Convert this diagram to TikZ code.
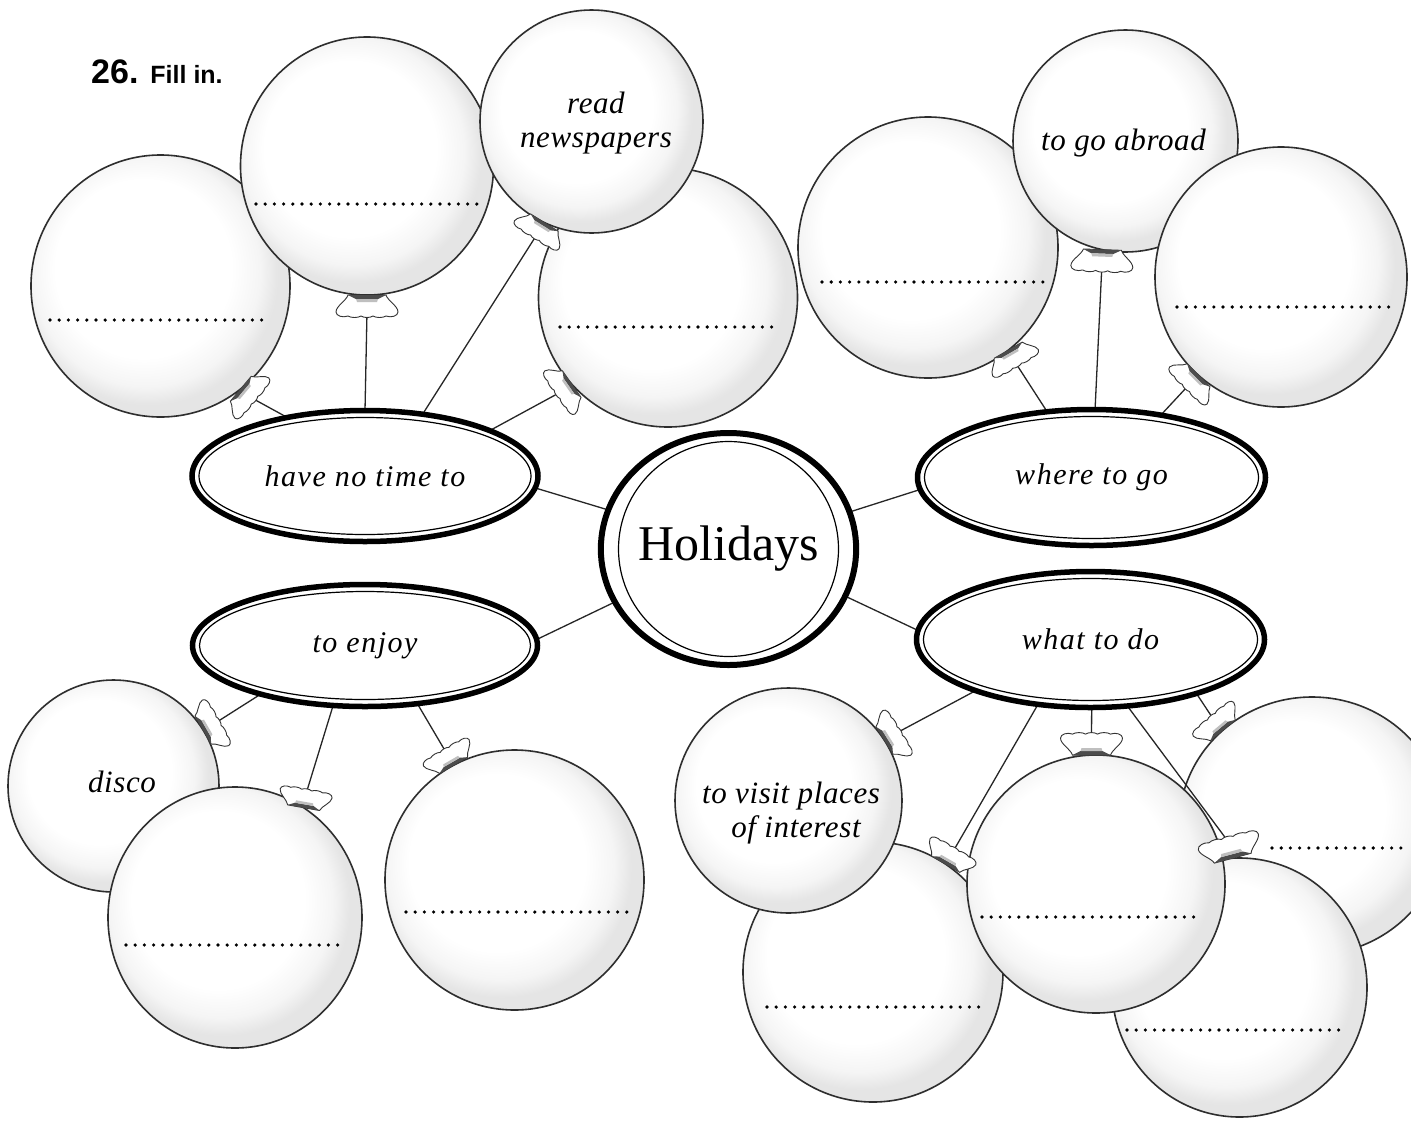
\documentclass[tikz,border=0pt]{standalone}
\usepackage{fontspec}
\setmainfont{Liberation Serif}
\newfontfamily\titlefont{Liberation Sans}
\newfontfamily\topicfont[LetterSpace=5]{Liberation Serif}
\newfontfamily\bfont[LetterSpace=2]{Liberation Serif}
\usetikzlibrary{shapes.geometric}
\pgfdeclarelayer{bal}
\pgfdeclarelayer{lin}
\pgfsetlayers{bal,lin,main}
\pgfdeclareradialshading{balloonshade}{\pgfpoint{-5bp}{5bp}}{color(0bp)=(white); color(17bp)=(white); color(22bp)=(black!4); color(25bp)=(black!10); color(50bp)=(black!10)}
\tikzset{
  balloon/.style={ellipse, draw=black!82, line width=1.6pt, shading=balloonshade, inner sep=0pt, outer sep=0pt},
  topic/.style={ellipse, draw=black, line width=5.5pt, fill=white, inner sep=0pt, outer sep=0pt, font=\topicfont\itshape\fontsize{30}{36}\selectfont},
  hub/.style={ellipse, draw=black, line width=6pt, fill=white, inner sep=0pt, outer sep=0pt, font=\fontsize{50}{60}\selectfont},
  ring/.style={ellipse, draw=black, line width=1.2pt, inner sep=0pt, outer sep=0pt},
  conn/.style={draw=black!85, line width=1.3pt},
  dotrule/.style={line width=3.6pt, line cap=round, dash pattern=on 0pt off 9.2pt},
  btext/.style={font=\bfont\itshape\fontsize{31}{34}\selectfont, align=center, inner sep=0pt},
  balknot/.pic={
    \path[fill=white, draw=black!80, line width=0.9pt]
      (0,-19) .. controls (6,-21) and (11,-31) .. (17,-31)
      .. controls (21,-31) and (23,-24) .. (21,-19)
      .. controls (23,-16) and (23,-9) .. (21,-6)
      .. controls (23,-3) and (23,3) .. (21,6)
      .. controls (23,9) and (23,16) .. (21,19)
      .. controls (23,24) and (21,31) .. (17,31)
      .. controls (11,31) and (6,21) .. (0,19) -- cycle;
    \fill[black!70] (0,-19) .. controls (2,-15) .. (4,-11) -- (4,11) .. controls (2,15) .. (0,19) -- cycle;
    \fill[black!25] (4,-11) -- (7,-10) -- (7,10) -- (4,11) -- cycle;
    \coordinate (-tip) at (17,0);
  }
}
\begin{document}
\begin{tikzpicture}[x=1pt,y=-1pt]
\useasboundingbox (0,0) rectangle (1411,1120);

% ---------- topics and hub ----------
\node[topic, minimum width=346pt, minimum height=131pt] (T1) at (365,476) {have no time to};
\node[ring, minimum width=332pt, minimum height=117pt] (T1r) at (T1.center) {};
\node[topic, minimum width=345pt, minimum height=122pt] (T2) at (365,645.5) {to enjoy};
\node[ring, minimum width=331pt, minimum height=108pt] (T2r) at (T2.center) {};
\node[topic, minimum width=348pt, minimum height=136pt] (T3) at (1091.5,477.5) {where to go};
\node[ring, minimum width=334pt, minimum height=122pt] (T3r) at (T3.center) {};
\node[topic, minimum width=348pt, minimum height=136pt] (T4) at (1090.5,639.5) {what to do};
\node[ring, minimum width=334pt, minimum height=122pt] (T4r) at (T4.center) {};
\node[hub, minimum width=237pt, minimum height=232pt] (hol) at (728.5,549) {Holidays};
\node[ring, minimum width=220pt, minimum height=215pt] (holr) at (hol.center) {};

% ---------- balloons ----------
\begin{pgfonlayer}{bal}
\fill[white] (0,0) rectangle (1411,1120);
\node[balloon, minimum width=259pt, minimum height=262pt] (bA) at (160.5,286) {};
\draw[dotrule] (50,320) -- (269,320);
\node[balloon, minimum width=253pt, minimum height=258pt] (bB) at (367,166) {};
\draw[dotrule] (256,204) -- (479,204);
\node[balloon, minimum width=259pt, minimum height=259pt] (bD) at (668,297.5) {};
\draw[dotrule] (560,327) -- (779,327);
\node[balloon, minimum width=223pt, minimum height=223pt] (bC) at (591.5,121.5) {};

\node[balloon, minimum width=260pt, minimum height=261pt] (bE) at (928,247.5) {};
\draw[dotrule] (822,282) -- (1044,282);
\node[balloon, minimum width=225pt, minimum height=222pt] (bF) at (1125.5,141) {};
\node[balloon, minimum width=252pt, minimum height=260pt] (bG) at (1281,277) {};
\draw[dotrule] (1177,307) -- (1397,307);

\node[balloon, minimum width=211pt, minimum height=212pt] (bH) at (113.5,786) {};
\node[balloon, minimum width=254pt, minimum height=261pt] (bI) at (235,917.5) {};
\draw[dotrule] (126,945) -- (345,945);
\node[balloon, minimum width=259pt, minimum height=260pt] (bJ) at (514.5,880) {};
\draw[dotrule] (406,912) -- (627,912);

\node[balloon, minimum width=260pt, minimum height=260pt] (bL) at (873,972) {};
\draw[dotrule] (767,1007) -- (985,1007);
\node[balloon, minimum width=266pt, minimum height=258pt] (bN) at (1312,826) {};
\draw[dotrule] (1272,848) -- (1408,848);
\node[balloon, minimum width=255pt, minimum height=259pt] (bO) at (1239.5,987.5) {};
\draw[dotrule] (1127,1030) -- (1345,1030);
\node[balloon, minimum width=258pt, minimum height=258pt] (bM) at (1096,884) {};
\draw[dotrule] (982,917) -- (1202,917);
\node[balloon, minimum width=227pt, minimum height=225pt] (bK) at (788.5,800.5) {};
\end{pgfonlayer}

% ---------- knots ----------
\pic[rotate=-40, scale=0.85] (kA) at (bA.-52) {balknot};
\pic[rotate=-90] (kB) at (bB.-90) {balknot};
\pic[rotate=-122, scale=0.85] (kC) at (bC.-115) {balknot};
\pic[rotate=-145, scale=0.85] (kD) at (bD.-138) {balknot};
\pic[rotate=-60, scale=0.85] (kE) at (bE.-52) {balknot};
\pic[rotate=-92] (kF) at (bF.-102) {balknot};
\pic[rotate=-135, scale=0.85] (kG) at (bG.-130) {balknot};
\pic[rotate=30, scale=0.85] (kH) at (bH.32) {balknot};
\pic[rotate=80, scale=0.85] (kI) at (bI.58) {balknot};
\pic[rotate=120, scale=0.85] (kJ) at (bJ.118) {balknot};
\pic[rotate=32, scale=0.85] (kK) at (bK.32) {balknot};
\pic[rotate=60, scale=0.85] (kL) at (bL.56) {balknot};
\pic[rotate=90] (kM) at (bM.92) {balknot};
\pic[rotate=130, scale=0.85] (kN) at (bN.133) {balknot};
\pic[rotate=105] (kO) at (bO.93) {balknot};

% ---------- connectors ----------
\begin{pgfonlayer}{lin}
\draw[conn] (hol.162) -- (T1.-4);
\draw[conn] (hol.-155) -- (T2.2);
\draw[conn] (hol.17.5) -- (T3.-176);
\draw[conn] (hol.-22.7) -- (T4.177);
\draw[conn] (kA-tip) -- (T1.143);
\draw[conn] (kB-tip) -- (T1.90);
\draw[conn] (kC-tip) -- (T1.47);
\draw[conn] (kD-tip) -- (T1.20);
\draw[conn] (kE-tip) -- (T3.124);
\draw[conn] (kF-tip) -- (T3.87);
\draw[conn] (kG-tip) -- (T3.42);
\draw[conn] (kH-tip) -- (T2.-155);
\draw[conn] (kI-tip) -- (T2.-118);
\draw[conn] (kJ-tip) -- (T2.-48);
\draw[conn] (kK-tip) -- (T4.-156);
\draw[conn] (kL-tip) -- (T4.-129);
\draw[conn] (kM-tip) -- (T4.-89);
\draw[conn] (kN-tip) -- (T4.-27);
\draw[conn] (kO-tip) -- (T4.-61);
\end{pgfonlayer}

% ---------- texts ----------
\node[btext] (tC) at (596,122.7) {read\\newspapers};
\node[btext] (tF) at (1123.5,142.7) {to go abroad};
\node[btext] (tH) at (122,782) {disco};
\node[btext] (tK) at (791,812.6) {to visit places\\\hspace*{10pt}of interest};
\node[anchor=base west, inner sep=0pt, font=\titlefont\bfseries] (title) at (91,83) {\fontsize{34}{38}\selectfont 26.\hspace{12pt}\fontsize{25}{30}\selectfont Fill in.};
\end{tikzpicture}
\end{document}
